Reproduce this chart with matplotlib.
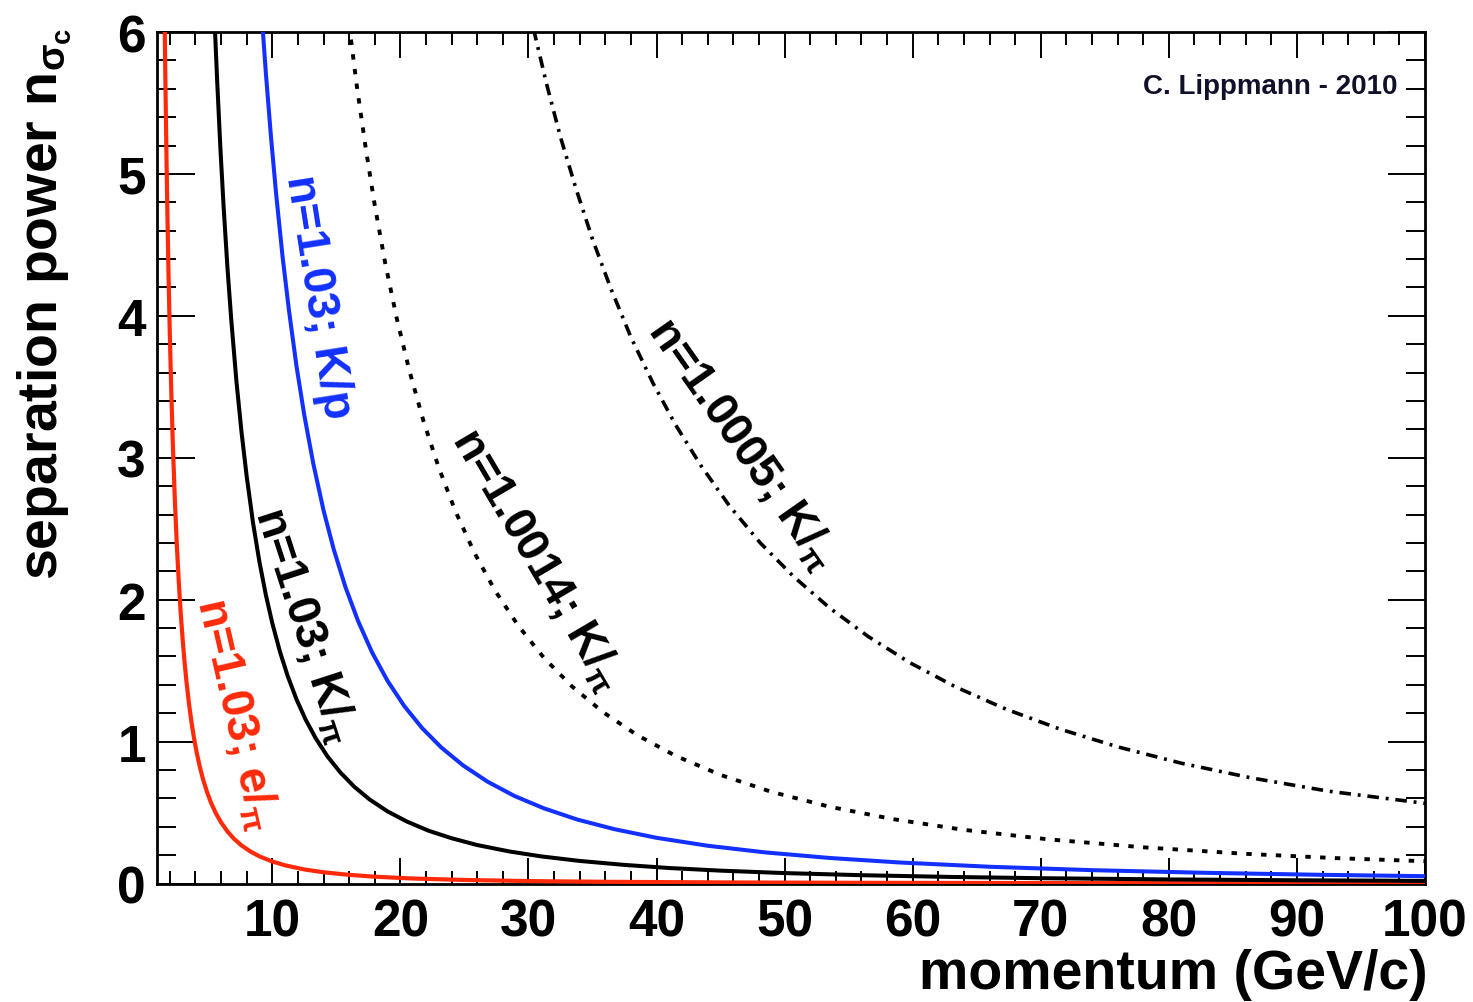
import matplotlib
matplotlib.use("Agg")
import matplotlib.pyplot as plt
from matplotlib.ticker import MultipleLocator

plt.rcParams["font.family"] = ["Liberation Sans", "DejaVu Sans"]
plt.rcParams["mathtext.fontset"] = "custom"
plt.rcParams["mathtext.rm"] = "Liberation Sans:bold"
plt.rcParams["mathtext.it"] = "Liberation Sans:bold"
plt.rcParams["mathtext.bf"] = "Liberation Sans:bold"

# momentum (GeV/c) and separation power
red_p = [1.55, 1.6, 1.65, 1.72, 1.8, 1.9, 2.0, 2.12, 2.25, 2.4, 2.55, 2.7, 2.85, 3.0, 3.15,
         3.3, 3.5, 3.7, 3.9, 4.1, 4.35, 4.6, 4.9, 5.2, 5.6, 6.0, 6.5, 7.0, 7.6, 8.3, 9.0,
         10, 11, 12.5, 14, 16, 18, 21, 25, 30, 36, 45, 55, 70, 85, 100]
red_n = [6.45, 6.05, 5.69, 5.24, 4.78, 4.29, 3.875, 3.45, 3.06, 2.69, 2.38, 2.126, 1.908,
         1.722, 1.562, 1.423, 1.265, 1.132, 1.019, 0.922, 0.819, 0.733, 0.646, 0.573, 0.494,
         0.431, 0.367, 0.316, 0.268, 0.225, 0.191, 0.155, 0.128, 0.099, 0.079, 0.061, 0.048,
         0.035, 0.025, 0.017, 0.012, 0.0077, 0.0051, 0.0032, 0.0021, 0.0016]

kpi_p = [5.5, 5.7, 5.95, 6.2, 6.5, 6.8, 7.2, 7.6, 8.0, 8.5, 9.0, 9.5, 10.0, 10.6, 11.2,
         11.9, 12.6, 13.4, 14.3, 15.3, 16.4, 17.6, 19, 20.5, 22.2, 24, 26, 28.5, 31, 34,
         37.5, 41, 45, 50, 56, 63, 70, 80, 90, 100]
kpi_n = [6.07, 5.65, 5.18, 4.77, 4.34, 3.97, 3.54, 3.18, 2.87, 2.54, 2.265, 2.033, 1.835,
         1.633, 1.463, 1.296, 1.156, 1.022, 0.897, 0.784, 0.682, 0.592, 0.508, 0.437, 0.372,
         0.319, 0.271, 0.226, 0.191, 0.159, 0.131, 0.109, 0.0906, 0.0734, 0.0585, 0.0462,
         0.0374, 0.0287, 0.0227, 0.0184]

kp_p = [9.2, 9.5, 9.9, 10.3, 10.8, 11.3, 11.9, 12.5, 13.2, 14.0, 14.8, 15.7, 16.7, 17.8,
        19.0, 20.3, 21.7, 23.2, 24.9, 26.8, 28.9, 31.2, 33.8, 36.7, 40, 44, 48.5, 53.5, 59,
        66, 74, 83, 92, 100]
kp_n = [6.09, 5.71, 5.26, 4.86, 4.42, 4.04, 3.64, 3.30, 2.96, 2.63, 2.354, 2.092, 1.849,
        1.627, 1.428, 1.251, 1.095, 0.958, 0.832, 0.718, 0.617, 0.530, 0.451, 0.383, 0.322,
        0.266, 0.219, 0.180, 0.148, 0.118, 0.094, 0.075, 0.061, 0.0516]

gas14_p = [16.0, 16.6, 17.3, 18.0, 18.8, 19.7, 20.7, 21.8, 23.0, 24.3, 25.8, 27.4, 29.2,
           31.2, 33.4, 35.8, 38.5, 41.5, 45, 49, 53.5, 58.5, 64, 70.5, 78, 86, 93, 100]
gas14_n = [6.05, 5.62, 5.18, 4.78, 4.38, 3.99, 3.615, 3.26, 2.93, 2.623, 2.327, 2.063, 1.817,
           1.591, 1.389, 1.209, 1.045, 0.899, 0.765, 0.645, 0.541, 0.453, 0.378, 0.312,
           0.255, 0.209, 0.179, 0.157]

gas05_p = [30.4, 31.4, 32.5, 33.7, 35.0, 36.4, 38.0, 39.7, 41.5, 43.5, 45.7, 48.1, 50.7,
           53.5, 56.5, 59.8, 63.4, 67.3, 71.5, 76, 81, 86.5, 92.5, 100]
gas05_n = [6.02, 5.64, 5.26, 4.90, 4.54, 4.20, 3.85, 3.53, 3.23, 2.94, 2.66, 2.40, 2.163,
           1.943, 1.742, 1.555, 1.383, 1.228, 1.088, 0.963, 0.847, 0.743, 0.650, 0.565]

RED = "#ff2a0a"
BLUE = "#1230ff"

fig = plt.figure(figsize=(14.73, 10.03), dpi=100)
ax = fig.add_axes([157 / 1473, 1 - 884.5 / 1003, (1425 - 157) / 1473, (884.5 - 33) / 1003])

ax.plot(red_p, red_n, color=RED, lw=3.0, zorder=3)
ax.plot(kpi_p, kpi_n, color="black", lw=2.9, zorder=3)
ax.plot(kp_p, kp_n, color=BLUE, lw=2.9, zorder=3)
ax.plot(gas14_p, gas14_n, color="black", lw=2.8, dashes=(1.4, 2.4), dash_capstyle="butt")
ax.plot(gas05_p, gas05_n, color="black", lw=2.6, dashes=(3.2, 1.9, 0.8, 1.9),
        dash_capstyle="butt")

ax.set_xlim(1, 100)
ax.set_ylim(0, 6)

ax.xaxis.set_minor_locator(MultipleLocator(2))
ax.yaxis.set_minor_locator(MultipleLocator(0.2))
ax.set_xticks([10, 20, 30, 40, 50, 60, 70, 80, 90, 100])
ax.set_xticklabels(["10", "20", "30", "40", "50", "60", "70", "80", "90", "100"],
                   fontweight="bold")
ax.set_yticks([0, 1, 2, 3, 4, 5, 6])
ax.set_yticklabels(["0", "1", "2", "3", "4", "5", "6"], fontweight="bold")
ax.tick_params(axis="both", which="both", direction="in", top=True, right=True,
               width=1.4, labelsize=37)
ax.tick_params(axis="x", which="major", length=18.5, pad=10)
ax.tick_params(axis="x", which="minor", length=9.5)
ax.tick_params(axis="y", which="major", length=27, pad=8)
ax.tick_params(axis="y", which="minor", length=13.5)
for sp in ax.spines.values():
    sp.set_linewidth(2.0)

fig.text(1428 / 1473, 1 - 975 / 1003, "momentum (GeV/c)", ha="right", va="center",
         fontsize=40, fontweight="bold")
fig.text(45 / 1473, 1 - 28 / 1003, r"separation power n$_{\sigma_{\rm c}}$", ha="center",
         va="top", rotation=90, fontsize=40, fontweight="bold")

ax.text(0.978, 0.9366, "C. Lippmann - 2010", transform=ax.transAxes, ha="right",
        va="center", fontsize=20, fontweight="bold", color="#10102a")

lab_kw = dict(ha="center", va="center", rotation_mode="anchor", fontsize=33,
              fontweight="bold")
ax.text(13.6, 4.14, r"n=1.03; K/p", color=BLUE, rotation=-81, **lab_kw)
ax.text(12.55, 1.83, r"n=1.03; K/$_{\pi}$", color="black", rotation=-72, **lab_kw)
ax.text(7.2, 1.2, r"n=1.03; e/$_{\pi}$", color=RED, rotation=-77, **lab_kw)
ax.text(30.7, 2.29, r"n=1.0014; K/$_{\pi}$", color="black", rotation=-59.5, **lab_kw)
ax.text(46.7, 3.1, r"n=1.0005; K/$_{\pi}$", color="black", rotation=-55, **lab_kw)

fig.savefig("out.png", dpi=100)
